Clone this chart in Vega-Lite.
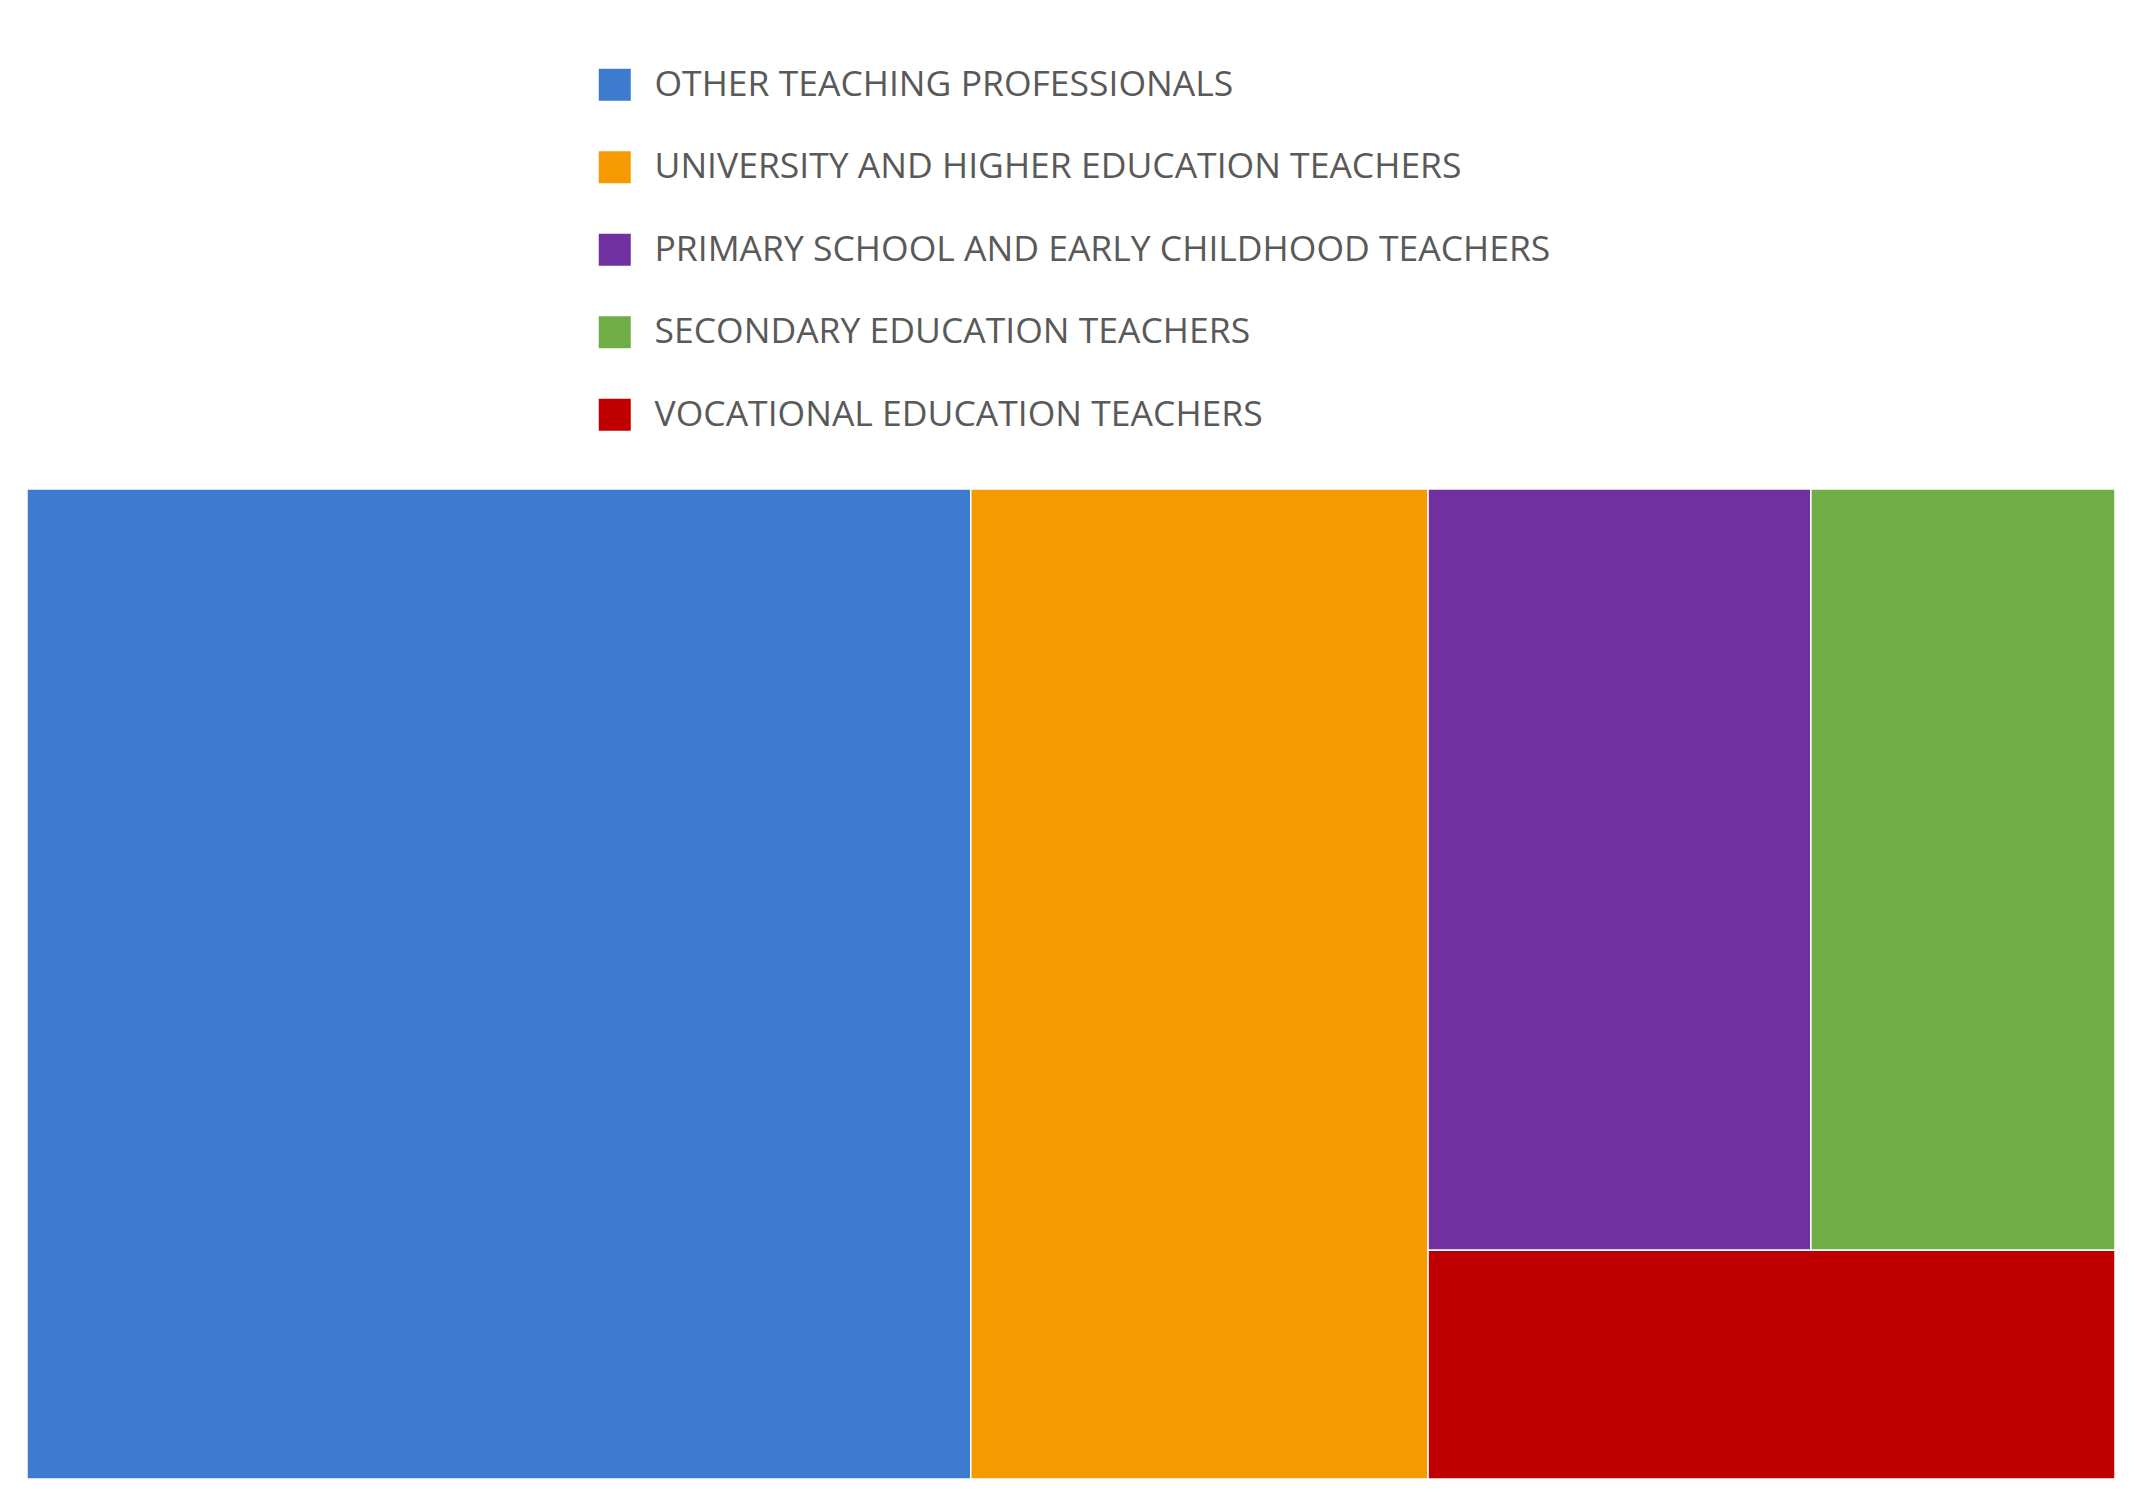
{
  "$schema": "https://vega.github.io/schema/vega-lite/v6.json",
  "width": 2088,
  "height": 990,
  "autosize": {"type": "none"},
  "padding": {"left": 27, "top": 489, "right": 27, "bottom": 29},
  "background": "white",
  "config": {"view": {"stroke": null}},
  "data": {
    "values": [
      {"occupation": "OTHER TEACHING PROFESSIONALS", "share": 45.2},
      {"occupation": "UNIVERSITY AND HIGHER EDUCATION TEACHERS", "share": 21.9},
      {"occupation": "PRIMARY SCHOOL AND EARLY CHILDHOOD TEACHERS", "share": 14.1},
      {"occupation": "SECONDARY EDUCATION TEACHERS", "share": 11.2},
      {"occupation": "VOCATIONAL EDUCATION TEACHERS", "share": 7.6}
    ]
  },
  "transform": [
    {"joinaggregate": [{"op": "sum", "field": "share", "as": "total"}]},
    {"window": [{"op": "row_number", "as": "rank"}, {"op": "sum", "field": "share", "as": "cum"}],
     "sort": [{"field": "share", "order": "descending"}]},
    {"calculate": "datum.rank <= 2 ? datum.share : 0", "as": "head"},
    {"calculate": "datum.rank == 3 || datum.rank == 4 ? datum.share : 0", "as": "top"},
    {"joinaggregate": [{"op": "sum", "field": "head", "as": "c"}, {"op": "sum", "field": "top", "as": "topSum"}]},
    {"calculate": "(datum.total - datum.c)", "as": "w"},
    {"calculate": "datum.rank <= 2 ? datum.cum - datum.share : datum.rank <= 4 ? datum.c + (datum.cum - datum.share - datum.c) * datum.w / datum.topSum : datum.c", "as": "x0"},
    {"calculate": "datum.rank <= 2 ? datum.cum : datum.rank <= 4 ? datum.c + (datum.cum - datum.c) * datum.w / datum.topSum : datum.total", "as": "x1"},
    {"calculate": "datum.rank == 5 ? datum.topSum / datum.w : 0", "as": "y0"},
    {"calculate": "datum.rank <= 2 || datum.rank == 5 ? 1 : datum.topSum / datum.w", "as": "y1"}
  ],
  "mark": {"type": "rect", "stroke": "white", "strokeWidth": 1.5},
  "encoding": {
    "x": {"field": "x0", "type": "quantitative", "axis": null, "scale": {"nice": false, "zero": true}},
    "x2": {"field": "x1"},
    "y": {"field": "y0", "type": "quantitative", "axis": null, "scale": {"domain": [0, 1], "reverse": true, "nice": false}},
    "y2": {"field": "y1"},
    "color": {
      "field": "occupation",
      "type": "nominal",
      "scale": {
        "domain": ["OTHER TEACHING PROFESSIONALS", "UNIVERSITY AND HIGHER EDUCATION TEACHERS", "PRIMARY SCHOOL AND EARLY CHILDHOOD TEACHERS", "SECONDARY EDUCATION TEACHERS", "VOCATIONAL EDUCATION TEACHERS"],
        "range": ["#3D7BCF", "#F59A00", "#7030A0", "#70AD47", "#C00000"]
      },
      "legend": {
        "title": null,
        "orient": "none",
        "legendX": 570,
        "legendY": -422,
        "direction": "vertical",
        "padding": 0,
        "symbolType": "square",
        "symbolSize": 1024,
        "symbolStrokeWidth": 0,
        "symbolOpacity": 1,
        "labelFont": "Open Sans",
        "labelFontSize": 35.5,
        "labelColor": "#595959",
        "labelOffset": 22,
        "labelLimit": 1300,
        "rowPadding": 45.5
      }
    }
  }
}
